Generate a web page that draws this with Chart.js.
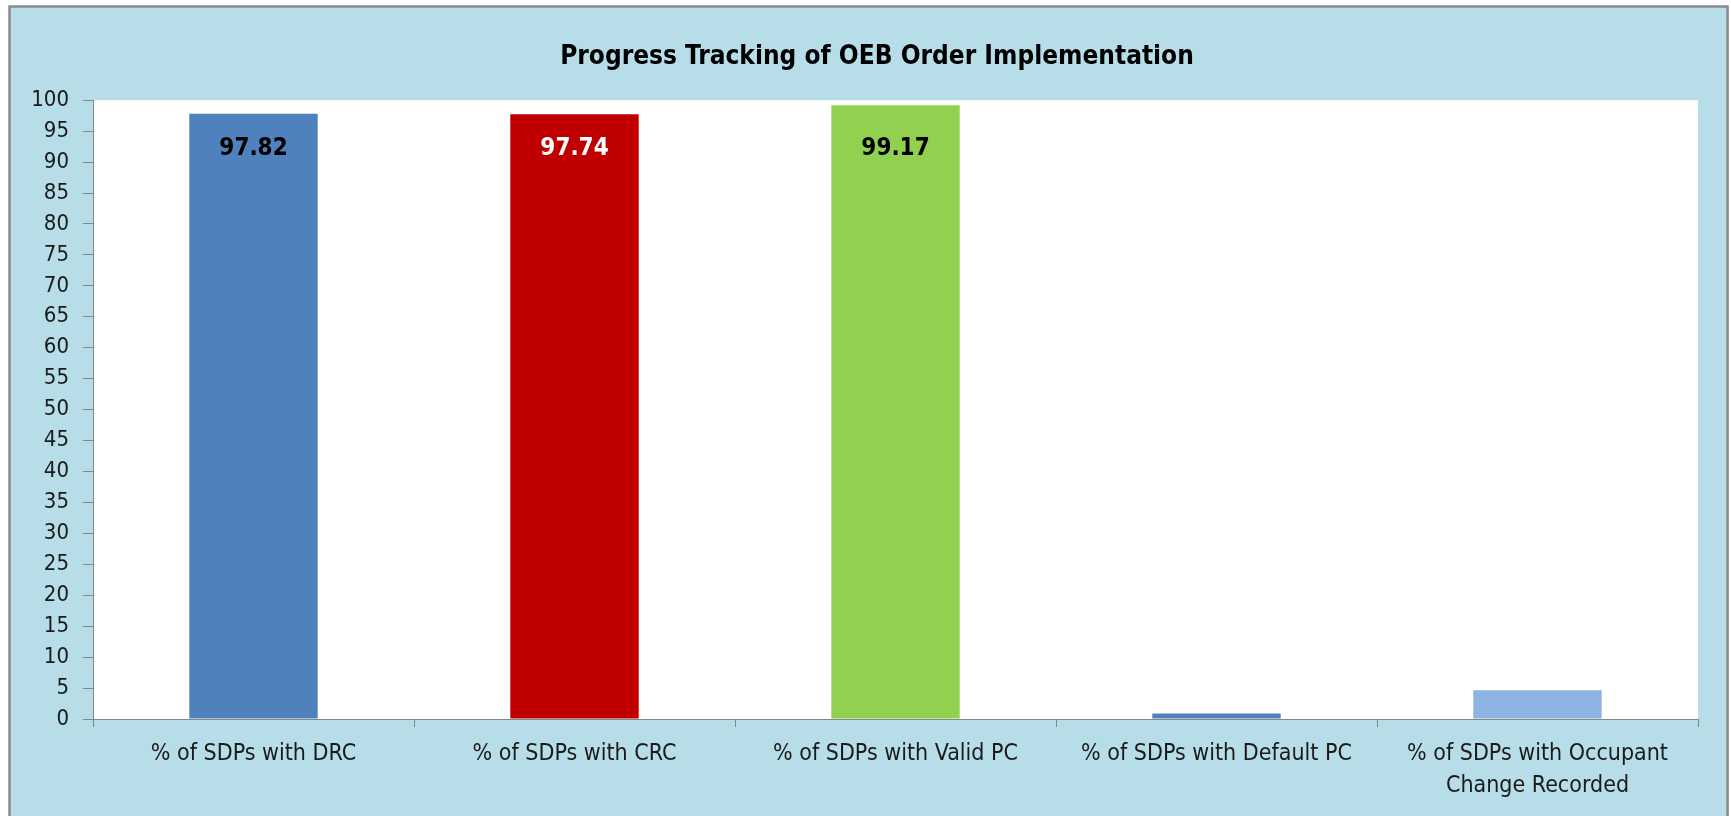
<!DOCTYPE html>
<html>
<head>
<meta charset="utf-8">
<title>Progress Tracking of OEB Order Implementation</title>
<script src="https://cdn.jsdelivr.net/npm/chart.js@4.4.1/dist/chart.umd.min.js"></script>
<style>
    html, body { margin: 0; padding: 0; background: #ffffff; }
    canvas { display: block; }
</style>
</head>
<body>
<canvas id="progressChart" width="1731" height="816"></canvas>
<script>
const categories = [
    ['% of SDPs with DRC'],
    ['% of SDPs with CRC'],
    ['% of SDPs with Valid PC'],
    ['% of SDPs with Default PC'],
    ['% of SDPs with Occupant', 'Change Recorded']
];
const percentValues = [97.82, 97.74, 99.17, 0.9, 4.64];
const barColors = ['#4F81BD', '#C00000', '#92D050', '#4F81BD', '#8EB4E3'];
const valueLabels = ['97.82', '97.74', '99.17', '', ''];
const valueLabelColors = ['#000000', '#ffffff', '#000000', '#000000', '#000000'];

const FONT = "'DejaVu Sans Condensed', 'DejaVu Sans', sans-serif";
const PANEL_FILL = '#B7DEE8';
const AXIS_GREY = '#868686';

// panel background, border and white plot area
const panelPlugin = {
    id: 'panel',
    beforeDraw: function (chart) {
        const ctx = chart.ctx;
        const area = chart.chartArea;
        ctx.save();
        ctx.fillStyle = '#ffffff';
        ctx.fillRect(0, 0, chart.width, chart.height);
        ctx.fillStyle = PANEL_FILL;
        ctx.fillRect(9, 6, 1720, chart.height);
        ctx.strokeStyle = '#8a8a8a';
        ctx.lineWidth = 2.5;
        ctx.strokeRect(9.5, 6.5, 1718, chart.height + 10);
        ctx.fillStyle = '#ffffff';
        ctx.fillRect(area.left, area.top, area.right - area.left, area.bottom - area.top);
        ctx.restore();
    }
};

// value labels near the top of the tall bars (Excel "inside end")
const valueLabelPlugin = {
    id: 'valueLabels',
    afterDatasetsDraw: function (chart) {
        const ctx = chart.ctx;
        const meta = chart.getDatasetMeta(0);
        const labelY = chart.scales.y.getPixelForValue(92.2);
        ctx.save();
        ctx.font = 'bold 24px ' + FONT;
        ctx.textAlign = 'center';
        ctx.textBaseline = 'middle';
        meta.data.forEach(function (bar, i) {
            if (!valueLabels[i]) return;
            ctx.fillStyle = valueLabelColors[i];
            ctx.fillText(valueLabels[i], bar.x, labelY);
        });
        ctx.restore();
    }
};

const ctx = document.getElementById('progressChart').getContext('2d');

new Chart(ctx, {
    type: 'bar',
    data: {
        labels: categories,
        datasets: [{
            data: percentValues,
            backgroundColor: barColors,
            borderWidth: 0,
            barPercentage: 0.4,
            categoryPercentage: 1.0
        }]
    },
    options: {
        responsive: false,
        animation: false,
        devicePixelRatio: 1,
        layout: { padding: { left: 23, right: 0, top: 0, bottom: 0 } },
        plugins: {
            legend: { display: false },
            tooltip: { enabled: false },
            title: {
                display: true,
                text: 'Progress Tracking of OEB Order Implementation',
                color: '#000000',
                font: { family: FONT, size: 26, weight: 'bold', lineHeight: 1.2 },
                padding: { top: 42, bottom: 27 }
            }
        },
        scales: {
            x: {
                grid: {
                    display: true,
                    drawOnChartArea: false,
                    drawTicks: true,
                    tickLength: 8,
                    color: AXIS_GREY,
                    offset: true
                },
                border: { display: true, color: AXIS_GREY, width: 1 },
                ticks: {
                    color: '#1a1a1a',
                    padding: 11,
                    maxRotation: 0,
                    autoSkip: false,
                    font: { family: FONT, size: 23, lineHeight: 1.39 }
                },
                afterFit: function (scale) { scale.height = 97; }
            },
            y: {
                min: 0,
                max: 100,
                grid: {
                    display: true,
                    drawOnChartArea: false,
                    drawTicks: true,
                    tickLength: 10,
                    color: AXIS_GREY
                },
                border: { display: true, color: AXIS_GREY, width: 1 },
                ticks: {
                    stepSize: 5,
                    color: '#1a1a1a',
                    padding: 14,
                    font: { family: FONT, size: 22 }
                },
                afterFit: function (scale) { scale.width = 70; }
            },
            // empty right-hand strip so the plot ends where the panel margin begins
            yRight: {
                position: 'right',
                display: true,
                grid: { display: false },
                border: { display: false },
                ticks: { display: false },
                afterFit: function (scale) { scale.width = 33; }
            }
        }
    },
    plugins: [panelPlugin, valueLabelPlugin]
});
</script>
</body>
</html>
